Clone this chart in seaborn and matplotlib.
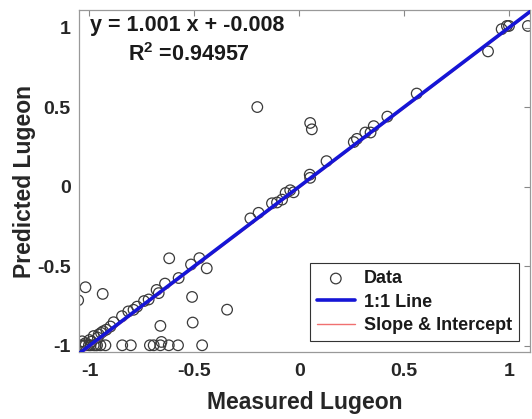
import matplotlib
matplotlib.use('Agg')
import numpy as np
import pandas as pd
import matplotlib.pyplot as plt
import seaborn as sns

# Measured vs predicted Lugeon values
# bottom row (predicted ~ -1), points along the 1:1 line, then outliers
measured = [
    -1.043, -1.027, -1.019, -1.003, -0.995, -0.980, -0.971, -0.964, -0.948,
    -0.924, -0.844, -0.803, -0.712, -0.694, -0.662, -0.622, -0.578, -0.463,
    -1.035, -1.020, -1.000, -0.990, -0.980, -0.960, -0.956, -0.945, -0.935,
    -0.920, -0.900, -0.885, -0.845, -0.815, -0.790, -0.773, -0.740, -0.718,
    -0.680, -0.670, -0.640, -0.575, -0.516, -0.476,
    -0.233, -0.194, -0.130, -0.106, -0.082, -0.065, -0.043, -0.027, 0.050,
    0.052, 0.130, 0.260, 0.275, 0.315, 0.340, 0.355, 0.420, 0.560, 0.900,
    0.965, 0.990, 1.000, 1.090,
    -1.054, -1.019, -0.937, -0.620, -0.441, -0.511, -0.344, -0.662, -0.508,
    -0.657, -0.200, 0.052, 0.060,
]
predicted = [
    -0.998, -0.998, -0.998, -0.998, -0.998, -0.998, -0.998, -0.998, -0.998,
    -0.998, -0.998, -0.998, -0.998, -0.998, -0.998, -0.998, -0.998, -0.998,
    -0.973, -0.985, -0.965, -0.975, -0.940, -0.950, -0.930, -0.920, -0.910,
    -0.900, -0.880, -0.853, -0.815, -0.785, -0.775, -0.755, -0.720, -0.710,
    -0.650, -0.670, -0.610, -0.575, -0.490, -0.450,
    -0.200, -0.165, -0.105, -0.100, -0.082, -0.040, -0.023, -0.036, 0.075,
    0.055, 0.160, 0.280, 0.300, 0.340, 0.340, 0.380, 0.440, 0.585, 0.850,
    0.990, 1.010, 1.010, 1.010,
    -0.715, -0.633, -0.675, -0.451, -0.514, -0.694, -0.774, -0.876, -0.855,
    -0.977, 0.500, 0.400, 0.360,
]

line_x = [-1.05, 1.1]
slope = 1.001
intercept = -0.008
r2 = 0.94957

tick_vals = [-1, -0.5, 0, 0.5, 1]
tick_labels = ['-1', '-0.5', '0', '0.5', '1']

sns.set_theme(style='white')
plt.rcParams['font.family'] = ['Liberation Sans', 'DejaVu Sans']
plt.rcParams['font.weight'] = 'bold'
plt.rcParams['mathtext.fontset'] = 'custom'
plt.rcParams['mathtext.rm'] = 'Liberation Sans:bold'
plt.rcParams['mathtext.it'] = 'Liberation Sans:bold'
plt.rcParams['mathtext.bf'] = 'Liberation Sans:bold'

df = pd.DataFrame({'Measured': measured, 'Predicted': predicted})
fit = pd.DataFrame({'x': line_x})
fit['one'] = fit['x']
fit['fit'] = slope * fit['x'] + intercept

fig = plt.figure(figsize=(5.32, 4.19), dpi=100)
ax = fig.add_axes([0.1485, 0.16, 0.8477, 0.816])

sns.scatterplot(data=df, x='Measured', y='Predicted', ax=ax, marker='o', s=58,
                facecolors='none', edgecolors='#3a3a3a', linewidth=0.9,
                label='Data', zorder=2)
sns.lineplot(data=fit, x='x', y='one', ax=ax, color='#1515d6', lw=2.6,
             label='1:1 Line', zorder=4)
sns.lineplot(data=fit, x='x', y='fit', ax=ax, color='#f07070', lw=1.0,
             label='Slope & Intercept', zorder=3)

ax.set_xlim(-1.05, 1.1)
ax.set_ylim(-1.04, 1.11)
ax.set_xticks(tick_vals)
ax.set_xticklabels(tick_labels)
ax.set_yticks(tick_vals)
ax.set_yticklabels(tick_labels)
ax.tick_params(direction='in', top=True, right=True, length=4, width=0.8,
               color='#888888', labelsize=14, labelcolor='#262626')
ax.tick_params(axis='x', pad=8)
ax.tick_params(axis='y', pad=6)
for sp in ax.spines.values():
    sp.set_color('#999999')
    sp.set_linewidth(0.9)

ax.set_xlabel('Measured Lugeon', fontsize=16.5, fontweight='bold',
              color='#262626', labelpad=8)
ax.set_ylabel('Predicted Lugeon', fontsize=16.5, fontweight='bold',
              color='#262626', labelpad=1)

ax.text(0.24, 0.955, 'y = %.3f x + %.3f' % (slope, intercept),
        transform=ax.transAxes, ha='center', va='center', fontsize=15.5,
        fontweight='bold', color='#1a1a1a')
ax.text(0.245, 0.871, r'R$^{2}$ =%.5f' % r2, transform=ax.transAxes,
        ha='center', va='center', fontsize=15.5, fontweight='bold',
        color='#1a1a1a')

h, l = ax.get_legend_handles_labels()
order = [l.index('Data'), l.index('1:1 Line'), l.index('Slope & Intercept')]
leg = ax.legend([h[i] for i in order], [l[i] for i in order],
                loc='lower right', fontsize=13, frameon=True, fancybox=False,
                edgecolor='#333333', framealpha=1, handlelength=2.1,
                labelspacing=0.35, borderpad=0.4, borderaxespad=0.6,
                handletextpad=0.5)
leg.get_frame().set_linewidth(0.8)
for t in leg.get_texts():
    t.set_color('#1a1a1a')

fig.savefig('out.png', dpi=100)
